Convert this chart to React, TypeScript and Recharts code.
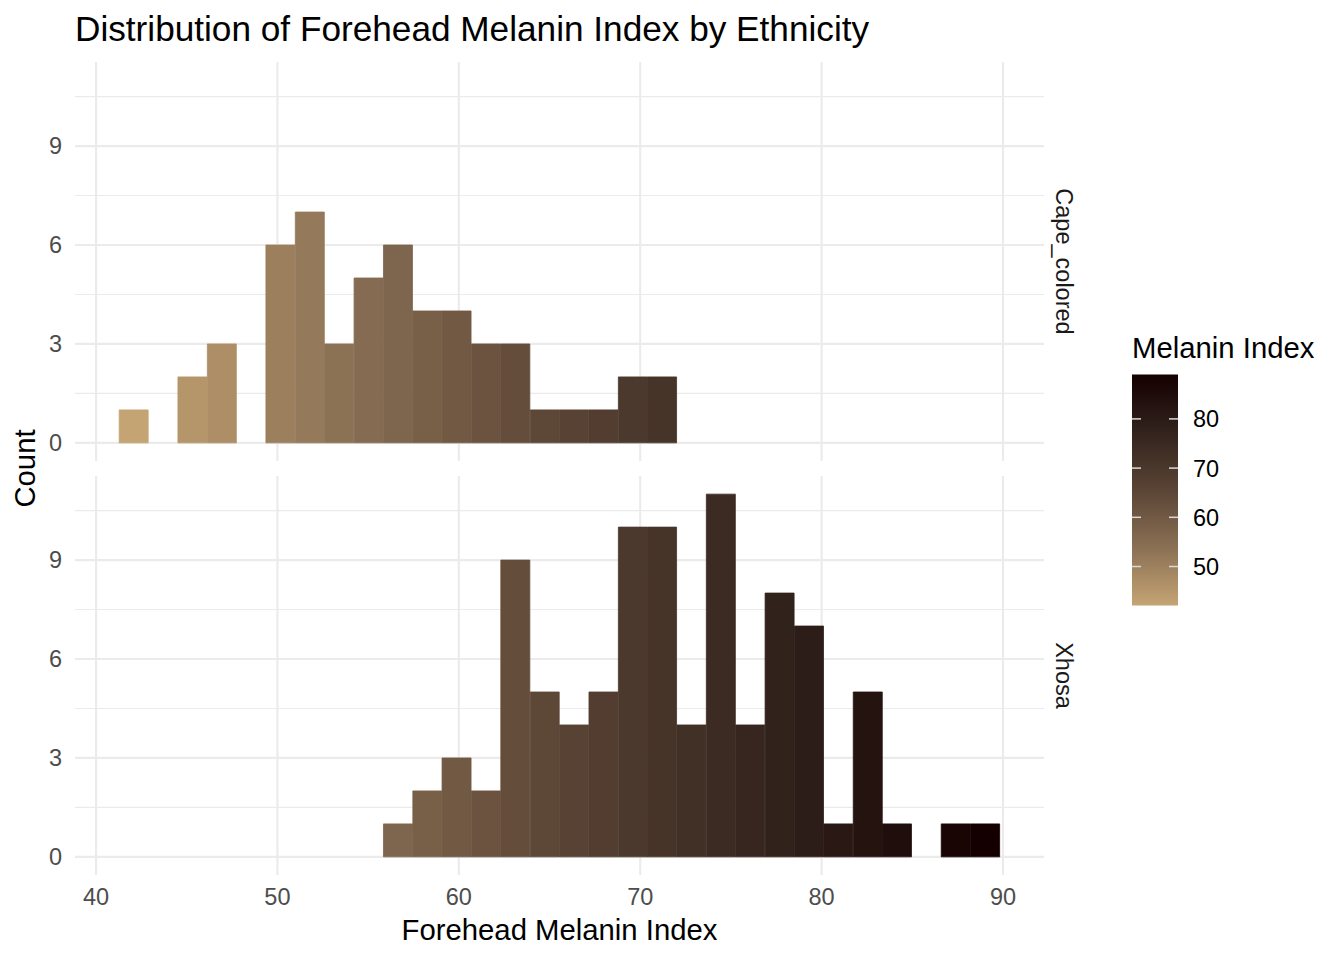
import React from "react"
import { BarChart, Bar, XAxis, YAxis, CartesianGrid, Cell } from "recharts"

// bin centres of the 30-bin histogram (shared by both facets)
const binCenters = [
  42.08, 43.7, 45.32, 46.94, 48.55, 50.17, 51.79, 53.41, 55.03, 56.65,
  58.27, 59.88, 61.5, 63.12, 64.74, 66.36, 67.98, 69.6, 71.21, 72.83,
  74.45, 76.07, 77.69, 79.31, 80.93, 82.55, 84.16, 85.78, 87.4, 89.02,
]

const capeColoredCounts = [
  1, 0, 2, 3, 0, 6, 7, 3, 5, 6, 4, 4, 3, 3, 1, 1, 1, 2, 2, 0, 0, 0, 0, 0, 0, 0, 0, 0, 0, 0,
]

const xhosaCounts = [
  0, 0, 0, 0, 0, 0, 0, 0, 0, 1, 2, 3, 2, 9, 5, 4, 5, 10, 10, 4, 11, 4, 8, 7, 1, 5, 1, 0, 1, 1,
]

const xTicks = [40, 50, 60, 70, 80, 90]
const xMinorTicks = [45, 55, 65, 75, 85]
const yTicks = [0, 3, 6, 9]
const yMinorTicks = [1.5, 4.5, 7.5, 10.5]
const legendTicks = [50, 60, 70, 80]

// tan -> near black
const fillStops = ["#C5A474", "#8A7054", "#5A4435", "#32231D", "#140000"]

const xDomain = [38.84, 92.26]
const yDomain = [-0.55, 11.55]

const FONT = "'Liberation Sans', Arial, Helvetica, sans-serif"

function hexToRgb(h: string) {
  return [1, 3, 5].map((i) => parseInt(h.slice(i, i + 2), 16))
}

function fillFor(v: number) {
  const lo = binCenters[0]
  const hi = binCenters[binCenters.length - 1]
  const t = Math.min(1, Math.max(0, (v - lo) / (hi - lo)))
  const seg = t * (fillStops.length - 1)
  const i = Math.min(fillStops.length - 2, Math.floor(seg))
  const f = seg - i
  const a = hexToRgb(fillStops[i])
  const b = hexToRgb(fillStops[i + 1])
  const c = a.map((av, k) => Math.round(av + (b[k] - av) * f))
  return `rgb(${c[0]},${c[1]},${c[2]})`
}

interface PanelProps {
  counts: number[]
  top: number
  height: number
  margin: { top: number; right: number; bottom: number; left: number }
  showX: boolean
}

function Panel({ counts, top, height, margin, showX }: PanelProps) {
  const data = binCenters.map((x, i) => ({ x, count: counts[i] }))
  return (
    <div style={{ position: "absolute", left: 0, top }}>
      <BarChart width={1100} height={height} data={data} margin={margin} barCategoryGap={0} barGap={0}>
        <XAxis xAxisId="minor" type="number" hide domain={xDomain} ticks={xMinorTicks} allowDataOverflow />
        <YAxis yAxisId="minor" type="number" hide domain={yDomain} ticks={yMinorTicks} allowDataOverflow />
        <CartesianGrid xAxisId="minor" yAxisId="minor" syncWithTicks stroke="#EBEBEB" strokeWidth={1.07} />
        <CartesianGrid syncWithTicks stroke="#EBEBEB" strokeWidth={2.13} />
        <XAxis
          dataKey="x"
          type="number"
          domain={xDomain}
          ticks={xTicks}
          allowDataOverflow
          hide={!showX}
          height={40}
          interval={0}
          axisLine={false}
          tickLine={false}
          tickSize={0}
          tickMargin={13}
          tick={{ fill: "#4D4D4D", fontSize: 23.5, fontFamily: FONT }}
        />
        <YAxis
          type="number"
          domain={yDomain}
          ticks={yTicks}
          allowDataOverflow
          width={60}
          interval={0}
          axisLine={false}
          tickLine={false}
          tickSize={0}
          tickMargin={13}
          tick={{ fill: "#4D4D4D", fontSize: 23.5, fontFamily: FONT }}
        />
        <Bar dataKey="count" isAnimationActive={false}>
          {data.map((d, i) => (
            <Cell key={i} fill={fillFor(d.x)} stroke={fillFor(d.x)} strokeWidth={0.8} />
          ))}
        </Bar>
      </BarChart>
    </div>
  )
}

function ColourBar() {
  const x = 1132
  const y = 374.5
  const w = 46
  const h = 231
  const lo = binCenters[0]
  const hi = binCenters[binCenters.length - 1]
  const yOf = (v: number) => y + h - ((v - lo) / (hi - lo)) * h
  return (
    <g>
      <defs>
        <linearGradient id="melanin" x1="0" y1="1" x2="0" y2="0">
          {fillStops.map((c, i) => (
            <stop key={i} offset={i / (fillStops.length - 1)} stopColor={c} />
          ))}
        </linearGradient>
      </defs>
      <text x={x} y={357.5} fontSize={29.3} fill="#000">
        Melanin Index
      </text>
      <rect x={x} y={y} width={w} height={h} fill="url(#melanin)" />
      {legendTicks.map((t) => (
        <g key={t}>
          <line x1={x} x2={x + 9} y1={yOf(t)} y2={yOf(t)} stroke="#D9D9D9" strokeWidth={1.5} />
          <line x1={x + w - 9} x2={x + w} y1={yOf(t)} y2={yOf(t)} stroke="#D9D9D9" strokeWidth={1.5} />
          <text x={1193} y={yOf(t)} dy="0.36em" fontSize={23.5} fill="#000">
            {t}
          </text>
        </g>
      ))}
    </g>
  )
}

export default function App() {
  return (
    <div
      style={{
        position: "absolute",
        left: 0,
        top: 0,
        width: 1344,
        height: 960,
        background: "#fff",
        fontFamily: FONT,
      }}
    >
      <Panel counts={capeColoredCounts} top={0} height={480} margin={{ top: 62, right: 56, bottom: 19, left: 15 }} showX={false} />
      <Panel counts={xhosaCounts} top={456} height={500} margin={{ top: 20, right: 56, bottom: 41, left: 15 }} showX />
      <svg width={1344} height={960} style={{ position: "absolute", left: 0, top: 0, pointerEvents: "none" }} fontFamily={FONT}>
        <text x={75} y={41} fontSize={35.2} fill="#000">
          Distribution of Forehead Melanin Index by Ethnicity
        </text>
        <text x={35} y={468.5} fontSize={29.3} fill="#000" textAnchor="middle" transform="rotate(-90 35 468.5)">
          Count
        </text>
        <text x={559.5} y={940} fontSize={29.3} fill="#000" textAnchor="middle">
          Forehead Melanin Index
        </text>
        <text x={1056} y={261.5} fontSize={23.5} fill="#1A1A1A" textAnchor="middle" transform="rotate(90 1056 261.5)">
          Cape_colored
        </text>
        <text x={1056} y={675.5} fontSize={23.5} fill="#1A1A1A" textAnchor="middle" transform="rotate(90 1056 675.5)">
          Xhosa
        </text>
        <ColourBar />
      </svg>
    </div>
  )
}
